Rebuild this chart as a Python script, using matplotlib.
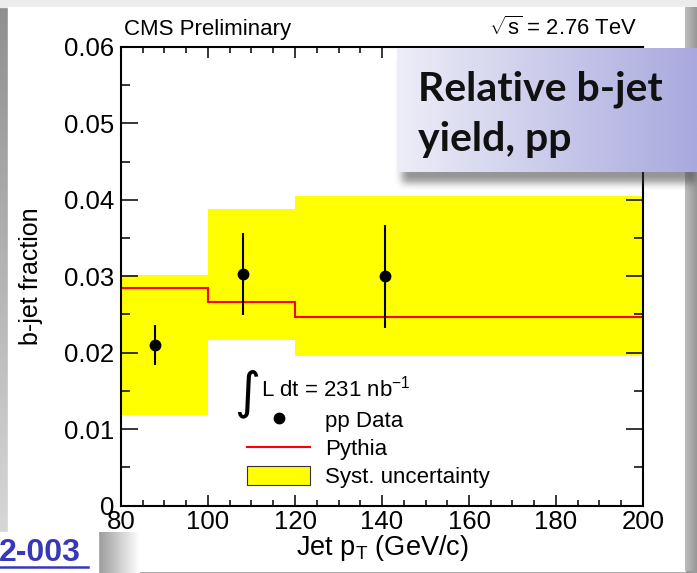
import numpy as np
import matplotlib
matplotlib.use("Agg")
import matplotlib.pyplot as plt
from matplotlib.patches import Rectangle
from matplotlib.lines import Line2D

plt.rcParams['font.family'] = ['Liberation Sans', 'DejaVu Sans']
plt.rcParams['mathtext.fontset'] = 'custom'
plt.rcParams['mathtext.rm'] = 'Liberation Sans'
plt.rcParams['mathtext.it'] = 'Liberation Sans:italic'

# bins in jet pT (GeV/c)
bin_edges = [80, 100, 120, 200]
syst_low = [0.0119, 0.0217, 0.0195]
syst_high = [0.0301, 0.0388, 0.0405]
pythia = [0.0285, 0.0266, 0.0247]

# pp data points
data_x = [87.8, 108.1, 140.7]
data_y = [0.0210, 0.0303, 0.0300]
data_err_lo = [0.0026, 0.0054, 0.0068]
data_err_hi = [0.0026, 0.0054, 0.0067]

W, H = 697, 573
fig = plt.figure(figsize=(W / 100, H / 100), dpi=100)
fig.patch.set_facecolor('#9a9a9a')


def fx(x):
    return x / W


def fy(y):
    return 1 - y / H


# background page decorations (pixel coords)
bg = fig.add_axes([0, 0, 1, 1])
bg.set_xlim(0, W)
bg.set_ylim(H, 0)
bg.axis('off')
grad = np.linspace(0, 1, 100).reshape(-1, 1)
bg.imshow(grad, cmap=matplotlib.colors.LinearSegmentedColormap.from_list('g', ['#dcdcdc', '#8f8f8f']),
          extent=[0, 9, 0, H], aspect='auto', zorder=0)
bg.add_patch(Rectangle((0, 0), W, 7, color='#ececec', zorder=1))
bg.add_patch(Rectangle((8, 7), 677, 564, color='white', zorder=1))
# shadow at right of the page
sh = np.linspace(0, 1, 50).reshape(1, -1)
bg.imshow(sh, cmap=matplotlib.colors.LinearSegmentedColormap.from_list('s', ['#bdbdbd', '#979797']),
          extent=[685, 697, 571, 7], aspect='auto', zorder=1)
# link box bottom left
bg.imshow(np.linspace(0, 1, 60).reshape(1, -1),
          cmap=matplotlib.colors.LinearSegmentedColormap.from_list('l', ['#9a9a9a', '#ffffff']),
          extent=[98, 140, 573, 532], aspect='auto', zorder=2)
bg.add_patch(Rectangle((0, 532), 98, 41, color='white', zorder=3))
bg.text(-1, 561, '2-003', color='#3838b8', fontsize=23, fontweight='bold',
        ha='left', va='baseline', zorder=4)
bg.add_line(Line2D([0, 88], [567, 567], color='#3838b8', lw=1.8, zorder=4))

# main plot
ax = fig.add_axes([fx(121), fy(505.5), fx(643 - 121), (505.5 - 47) / H])
ax.set_facecolor('white')
widths = np.diff(bin_edges)
ax.bar(bin_edges[:-1], np.array(syst_high) - np.array(syst_low), width=widths,
       bottom=syst_low, align='edge', color='#ffff00', linewidth=0, zorder=1)
ax.stairs(pythia, bin_edges, baseline=None, color='red', linewidth=1.5, zorder=2)
ax.errorbar(data_x, data_y, yerr=[data_err_lo, data_err_hi], fmt='o', color='black',
            markersize=7.5, elinewidth=1.5, capsize=0, zorder=3)

ax.set_xlim(80, 200)
ax.set_ylim(0, 0.06)
ax.set_xticks([80, 100, 120, 140, 160, 180, 200])
ax.set_xticks(np.arange(80, 201, 5), minor=True)
ax.set_yticks([0, 0.01, 0.02, 0.03, 0.04, 0.05, 0.06])
ax.set_yticklabels(['0', '0.01', '0.02', '0.03', '0.04', '0.05', '0.06'])
ax.set_yticks(np.arange(0, 0.0601, 0.005), minor=True)
ax.tick_params(axis='both', which='both', direction='in', top=True, right=True,
               labelsize=18.5, width=1.1)
ax.tick_params(axis='x', which='major', length=8, pad=3)
ax.tick_params(axis='x', which='minor', length=4)
ax.tick_params(axis='y', which='major', length=12.5, pad=5)
ax.tick_params(axis='y', which='minor', length=6.5)
for s in ax.spines.values():
    s.set_linewidth(1.5)
ax.set_xlabel(r'Jet p$_\mathrm{T}$ (GeV/c)', fontsize=19.5)
ax.xaxis.set_label_coords(0.5, (505.5 - 533) / 458.5)
ax.set_ylabel('b-jet fraction', fontsize=18)
ax.yaxis.label.set_va('center')
ax.yaxis.set_label_coords((31 - 121) / 522, 0.5)

fig.text(fx(124), fy(35), 'CMS Preliminary', fontsize=16, ha='left', va='baseline')
fig.text(fx(637), fy(35), r'$\sqrt{\mathrm{s}}$ = 2.76 TeV', fontsize=15.8, ha='right', va='baseline')

# legend
fig.text(fx(234), fy(394), '\u222b', fontsize=36, family='DejaVu Sans', ha='left', va='center')
fig.text(fx(261), fy(396), r'L dt = 231 nb$^{\mathrm{-1}}$', fontsize=16, ha='left', va='baseline')
handles = [
    Line2D([], [], marker='o', color='black', linestyle='none', markersize=7.5),
    Line2D([], [], color='red', lw=1.5),
    Rectangle((0, 0), 1, 1, facecolor='#ffff00', edgecolor='#333333', linewidth=0.8),
]
ax.legend(handles, ['pp Data', 'Pythia', 'Syst. uncertainty'], loc='upper left',
          bbox_to_anchor=((247 - 121) / 522, (505.5 - 410) / 458.5), frameon=False,
          fontsize=16, handlelength=2.85, handleheight=0.9, handletextpad=0.68,
          labelspacing=0.28, borderpad=0, borderaxespad=0)

# callout box with shadow
ov = fig.add_axes([0, 0, 1, 1])
ov.set_xlim(0, W)
ov.set_ylim(H, 0)
ov.axis('off')
ov.patch.set_alpha(0)
yy, xx = np.mgrid[0:H, 0:W]
mask = ((xx >= 402) & (xx <= 720) & (yy >= 60) & (yy <= 182)).astype(float)
k = np.ones(9) / 9
for _ in range(2):
    mask = np.apply_along_axis(lambda r: np.convolve(r, k, mode='same'), 1, mask)
    mask = np.apply_along_axis(lambda c: np.convolve(c, k, mode='same'), 0, mask)
shadow = np.zeros((H, W, 4))
shadow[..., :3] = 0.25
shadow[..., 3] = mask * 0.55
ov.imshow(shadow, extent=[0, W, H, 0], aspect='auto', zorder=1, interpolation='bilinear')
g = np.linspace(0, 1, 200).reshape(1, -1)
ov.imshow(g, cmap=matplotlib.colors.LinearSegmentedColormap.from_list('c', ['#ededf7', '#a9a9df']),
          extent=[397, 697, 172, 48], aspect='auto', zorder=2)
ov.set_xlim(0, W)
ov.set_ylim(H, 0)
ov.text(418, 100, 'Relative b-jet', fontsize=29.5, fontweight='bold', family=['Lato', 'DejaVu Sans'],
        color='#111111', ha='left', va='baseline', zorder=3)
ov.text(418, 151, 'yield, pp', fontsize=29.5, fontweight='bold', family=['Lato', 'DejaVu Sans'],
        color='#111111', ha='left', va='baseline', zorder=3)

fig.savefig('out.png', dpi=100, facecolor=fig.get_facecolor())
